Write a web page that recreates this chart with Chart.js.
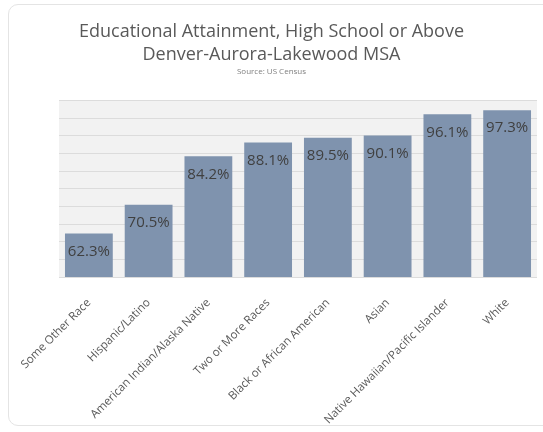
<!DOCTYPE html>
<html>
<head>
<meta charset="utf-8">
<script src="https://cdn.jsdelivr.net/npm/chart.js@4.4.1/dist/chart.umd.min.js"></script>
<style>
  html, body { margin: 0; padding: 0; background: #ffffff; }
  #card {
    position: absolute; left: 8px; top: 4px; width: 560px; height: 422px;
    border: 1px solid #e4e4e4; border-radius: 10px; box-sizing: border-box;
  }
  #wrap { position: absolute; left: 0; top: 0; width: 543px; height: 432px; }
</style>
</head>
<body>
<div id="card"></div>
<div id="wrap"><canvas id="chart"></canvas></div>
<script>
var groups = ['Some Other Race', 'Hispanic/Latino', 'American Indian/Alaska Native', 'Two or More Races',
              'Black or African American', 'Asian', 'Native Hawaiian/Pacific Islander', 'White'];
var attainment = [62.3, 70.5, 84.2, 88.1, 89.5, 90.1, 96.1, 97.3];
var titleLines = ['Educational Attainment, High School or Above', 'Denver-Aurora-Lakewood MSA'];
var sourceText = 'Source: US Census';

// light gray panel behind the bars
var panelBg = {
    id: 'panelBg',
    beforeDraw: function(chart) {
        var a = chart.chartArea;
        var ctx = chart.ctx;
        ctx.save();
        ctx.fillStyle = '#f2f2f2';
        ctx.fillRect(a.left, a.top, a.right - a.left, a.bottom - a.top);
        ctx.restore();
    }
};

// percent labels inside top of each bar
var barLabels = {
    id: 'barLabels',
    afterDatasetsDraw: function(chart) {
        var ctx = chart.ctx;
        var meta = chart.getDatasetMeta(0);
        ctx.save();
        ctx.font = '15px "Open Sans"';
        ctx.fillStyle = '#404040';
        ctx.textAlign = 'center';
        ctx.textBaseline = 'middle';
        meta.data.forEach(function(bar, i) {
            ctx.fillText(attainment[i].toFixed(1) + '%', bar.x, bar.y + 18);
        });
        ctx.restore();
    }
};

var config = {
    type: 'bar',
    data: {
        labels: groups,
        datasets: [{
            data: attainment,
            backgroundColor: '#7f93ae',
            borderWidth: 0,
            barPercentage: 0.8,
            categoryPercentage: 1.0
        }]
    },
    options: {
        responsive: true,
        maintainAspectRatio: false,
        animation: false,
        layout: { padding: { left: 6, right: 6, bottom: 4 } },
        plugins: {
            legend: { display: false },
            tooltip: { enabled: false },
            title: {
                display: true,
                text: titleLines,
                color: '#595959',
                font: { family: 'Open Sans', size: 18, weight: 'normal', lineHeight: 1.25 },
                padding: { top: 21, bottom: 1 }
            },
            subtitle: {
                display: true,
                text: sourceText,
                color: '#808080',
                font: { family: 'Open Sans', size: 8 },
                padding: { bottom: 24 }
            }
        },
        scales: {
            x: {
                grid: { display: false },
                border: { display: false },
                afterFit: function(scale) { scale.height = 151; },
                ticks: {
                    minRotation: 45, maxRotation: 45,
                    padding: 11,
                    color: '#595959',
                    font: { family: 'Open Sans', size: 11.5 }
                }
            },
            y: {
                min: 50, max: 100,
                afterFit: function(scale) { scale.width = 53; },
                grid: { color: '#dcdcdc', lineWidth: 1, drawTicks: false },
                border: { display: false },
                ticks: { display: false, stepSize: 5 }
            }
        }
    },
    plugins: [panelBg, barLabels]
};

new Chart(document.getElementById('chart'), config);
</script>
</body>
</html>
